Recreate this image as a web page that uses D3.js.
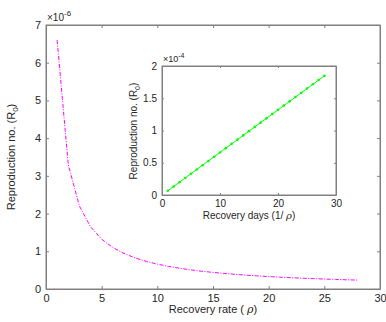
<!DOCTYPE html>
<html>
<head>
<meta charset="utf-8">
<script src="https://cdn.jsdelivr.net/npm/d3@7"></script>
<style>
  body { margin: 0; background: #fff; }
  svg { font-family: "Liberation Sans", Arial, sans-serif; }
</style>
</head>
<body>
<div id="chart"></div>
<script>
// recovery rate rho (main) and recovery days 1/rho (inset)
const rate = d3.range(1, 29);
const days = d3.range(1, 29);
// R0 in units of 1e-6
const r0Rate = [6.6, 3.3, 2.2, 1.65, 1.32, 1.1, 0.943, 0.825, 0.733, 0.66, 0.6, 0.55, 0.508, 0.471,
  0.44, 0.413, 0.388, 0.367, 0.347, 0.33, 0.314, 0.3, 0.287, 0.275, 0.264, 0.254, 0.244, 0.236];
// R0 in units of 1e-4
const r0Days = [0.066, 0.132, 0.198, 0.264, 0.33, 0.396, 0.462, 0.528, 0.594, 0.66, 0.726, 0.792, 0.858, 0.924,
  0.99, 1.056, 1.122, 1.188, 1.254, 1.32, 1.386, 1.452, 1.518, 1.584, 1.65, 1.716, 1.782, 1.848];
const mainXTicks = [0, 5, 10, 15, 20, 25, 30];
const mainYTicks = [0, 1, 2, 3, 4, 5, 6, 7];
const insetXTicks = [0, 10, 20, 30];
const insetYTicks = [0, 0.5, 1, 1.5, 2];

const W = 386, H = 322;
const axisCol = '#808080', textCol = '#262626';
const fmt = d3.format('~g');

const svg = d3.select('#chart').append('svg')
  .attr('width', W).attr('height', H);

function drawAxes(g, x, y, xt, yt, fs, tickLen) {
  const [x0, x1] = x.range();
  const [y0, y1] = y.range();
  g.append('rect').attr('x', x0).attr('y', y1)
    .attr('width', x1 - x0).attr('height', y0 - y1)
    .attr('fill', '#fff').attr('stroke', axisCol).attr('stroke-width', 1);

  const ax = g.append('g').attr('transform', `translate(0,${y0})`)
    .call(d3.axisBottom(x).tickValues(xt).tickFormat(fmt).tickSizeInner(-tickLen).tickSizeOuter(0).tickPadding(5));
  const axTop = g.append('g').attr('transform', `translate(0,${y1})`)
    .call(d3.axisTop(x).tickValues(xt).tickSizeInner(-tickLen).tickSizeOuter(0).tickFormat(''));
  const ay = g.append('g').attr('transform', `translate(${x0},0)`)
    .call(d3.axisLeft(y).tickValues(yt).tickFormat(fmt).tickSizeInner(-tickLen).tickSizeOuter(0).tickPadding(5));
  const ayR = g.append('g').attr('transform', `translate(${x1},0)`)
    .call(d3.axisRight(y).tickValues(yt).tickSizeInner(-tickLen).tickSizeOuter(0).tickFormat(''));
  [ax, axTop, ay, ayR].forEach(a => {
    a.select('.domain').attr('stroke', axisCol);
    a.selectAll('.tick line').attr('stroke', axisCol);
    a.selectAll('.tick text').attr('fill', textCol).attr('font-size', fs)
      .attr('font-family', '"Liberation Sans", Arial, sans-serif');
  });
}

// ---- main plot
const mx = d3.scaleLinear().domain([0, 30]).range([46, 380]);
const my = d3.scaleLinear().domain([0, 7]).range([289, 25]);
const gMain = svg.append('g');
drawAxes(gMain, mx, my, mainXTicks, mainYTicks, 11, 3);

gMain.append('path')
  .datum(rate.map((d, i) => [d, r0Rate[i]]))
  .attr('fill', 'none').attr('stroke', '#ff00ff').attr('stroke-width', 1)
  .attr('stroke-dasharray', '4,1.5,1,1.5')
  .attr('d', d3.line().x(d => mx(d[0])).y(d => my(d[1])));

gMain.append('text').attr('x', 47).attr('y', 21)
  .attr('fill', textCol).attr('font-size', 10)
  .html('×10<tspan dy="-5" font-size="8">-6</tspan>');

gMain.append('text').attr('x', 213).attr('y', 313).attr('text-anchor', 'middle')
  .attr('fill', textCol).attr('font-size', 11)
  .html('Recovery rate ( <tspan font-style="italic" font-family="DejaVu Serif">ρ</tspan>)');

gMain.append('text').attr('transform', 'translate(15,157) rotate(-90)')
  .attr('text-anchor', 'middle').attr('fill', textCol).attr('font-size', 11)
  .html('Reproduction no. (R<tspan dy="3" font-size="8">0</tspan><tspan dy="-3">)</tspan>');

// ---- inset
const ix = d3.scaleLinear().domain([0, 30]).range([162, 336]);
const iy = d3.scaleLinear().domain([0, 2]).range([195, 66]);
const gIn = svg.append('g');
drawAxes(gIn, ix, iy, insetXTicks, insetYTicks, 10, 2);

const pts = days.map((d, i) => [d, r0Days[i]]);
gIn.append('path').datum(pts)
  .attr('fill', 'none').attr('stroke', '#00ff00').attr('stroke-width', 1)
  .attr('d', d3.line().x(d => ix(d[0])).y(d => iy(d[1])));
gIn.selectAll('circle.pt').data(pts).enter().append('circle')
  .attr('class', 'pt')
  .attr('cx', d => ix(d[0])).attr('cy', d => iy(d[1])).attr('r', 1.3)
  .attr('fill', '#00ff00');

gIn.append('text').attr('x', 163).attr('y', 62)
  .attr('fill', textCol).attr('font-size', 9)
  .html('×10<tspan dy="-4" font-size="7">-4</tspan>');

gIn.append('text').attr('x', 249).attr('y', 219).attr('text-anchor', 'middle')
  .attr('fill', textCol).attr('font-size', 10)
  .html('Recovery days (1/ <tspan font-style="italic" font-family="DejaVu Serif">ρ</tspan>)');

gIn.append('text').attr('transform', 'translate(137,131) rotate(-90)')
  .attr('text-anchor', 'middle').attr('fill', textCol).attr('font-size', 10)
  .html('Reproduction no. (R<tspan dy="3" font-size="7">0</tspan><tspan dy="-3">)</tspan>');
</script>
</body>
</html>
